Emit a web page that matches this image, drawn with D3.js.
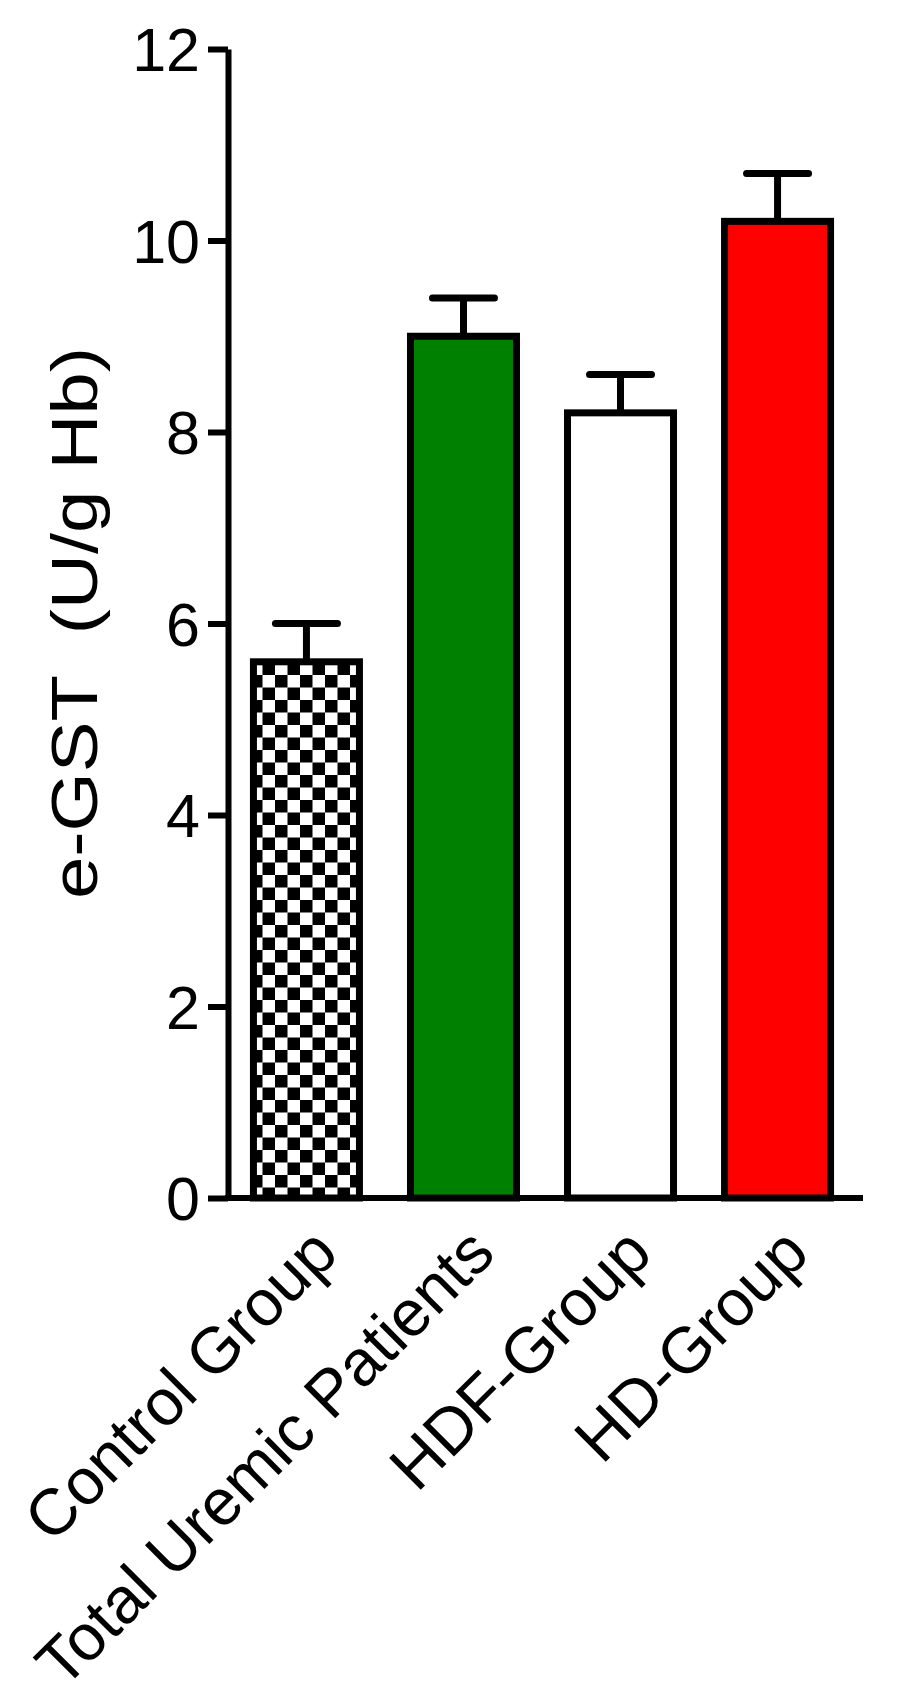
<!DOCTYPE html>
<html>
<head>
<meta charset="utf-8">
<script src="https://cdn.jsdelivr.net/npm/d3@7"></script>
<style>
  body { margin: 0; background: #fff; }
  text { font-family: "Liberation Sans", Arial, sans-serif; fill: #000; }
</style>
</head>
<body>
<div id="chart"></div>
<script>
// data
var categories = ["Control Group", "Total Uremic Patients", "HDF-Group", "HD-Group"];
var means = [5.6, 9.0, 8.2, 10.2];
var sems = [0.4, 0.4, 0.4, 0.5];
var fills = ["url(#checker)", "#008000", "#ffffff", "#ff0000"];
var yTicks = [0, 2, 4, 6, 8, 10, 12];
var yTitle = "e-GST  (U/g Hb)";

var w = 903, h = 1702;
// plot edges (window.top is reserved, so no plain "top")
var padL = 228, padT = 49, baseY = 1198, axisEnd = 863;

var svg = d3.select("#chart").append("svg")
    .attr("width", w)
    .attr("height", h);

// checker fill for the control bar
var pat = svg.append("defs").append("pattern")
    .attr("id", "checker")
    .attr("patternUnits", "userSpaceOnUse")
    .attr("width", 25)
    .attr("height", 25);
pat.append("rect").attr("width", 25).attr("height", 25).attr("fill", "#fff");
pat.append("rect").attr("width", 12.5).attr("height", 12.5).attr("fill", "#000");
pat.append("rect").attr("x", 12.5).attr("y", 12.5).attr("width", 12.5).attr("height", 12.5).attr("fill", "#000");

var x = d3.scaleBand()
    .domain(categories)
    .range([padL, 856])
    .paddingInner(0.325)
    .paddingOuter(0.162);

var y = d3.scaleLinear()
    .domain([0, 12])
    .range([baseY, padT]);

var rows = categories.map(function(c, i) {
    return {cat: c, mean: means[i], sem: sems[i], fill: fills[i]};
});

// bars
svg.selectAll("rect.bar")
    .data(rows)
    .enter().append("rect")
    .attr("class", "bar")
    .attr("x", function(d) { return x(d.cat); })
    .attr("y", function(d) { return y(d.mean); })
    .attr("width", x.bandwidth())
    .attr("height", function(d) { return y(0) - y(d.mean); })
    .attr("fill", function(d) { return d.fill; })
    .attr("stroke", "#000")
    .attr("stroke-width", 7);

// upper error bars
var capW = 62;
var err = svg.selectAll("g.err")
    .data(rows)
    .enter().append("g")
    .attr("class", "err");
err.append("line")
    .attr("x1", function(d) { return x(d.cat) + x.bandwidth() / 2; })
    .attr("x2", function(d) { return x(d.cat) + x.bandwidth() / 2; })
    .attr("y1", function(d) { return y(d.mean); })
    .attr("y2", function(d) { return y(d.mean + d.sem); })
    .attr("stroke", "#000")
    .attr("stroke-width", 7);
err.append("line")
    .attr("x1", function(d) { return x(d.cat) + x.bandwidth() / 2 - capW / 2; })
    .attr("x2", function(d) { return x(d.cat) + x.bandwidth() / 2 + capW / 2; })
    .attr("y1", function(d) { return y(d.mean + d.sem); })
    .attr("y2", function(d) { return y(d.mean + d.sem); })
    .attr("stroke", "#000")
    .attr("stroke-width", 7)
    .attr("stroke-linecap", "round");

// y axis
var yAxis = svg.append("g")
    .attr("transform", "translate(" + padL + ",0)")
    .call(d3.axisLeft(y).tickValues(yTicks).tickSize(20).tickSizeOuter(0).tickPadding(8));
yAxis.select(".domain").attr("stroke-width", 6).attr("stroke", "#000");
yAxis.selectAll(".tick line").attr("stroke-width", 6).attr("stroke", "#000");
yAxis.selectAll(".tick text")
    .attr("font-size", 61)
    .attr("dy", "0.36em")
    .style("font-family", "'Liberation Sans', Arial, sans-serif");

// x axis
svg.append("line")
    .attr("x1", padL - 3)
    .attr("x2", axisEnd)
    .attr("y1", baseY)
    .attr("y2", baseY)
    .attr("stroke", "#000")
    .attr("stroke-width", 6);

var xAxis = svg.append("g")
    .attr("transform", "translate(0," + baseY + ")")
    .call(d3.axisBottom(x).tickSize(0).tickSizeOuter(0));
xAxis.select(".domain").remove();
xAxis.selectAll(".tick text")
    .attr("x", 0)
    .attr("y", 0)
    .attr("dy", 0)
    .attr("transform", "translate(34,58) rotate(-45)")
    .attr("font-size", 65)
    .style("text-anchor", "end")
    .style("font-family", "'Liberation Sans', Arial, sans-serif");

// y title
svg.append("text")
    .attr("transform", "translate(97,623) rotate(-90)")
    .attr("text-anchor", "middle")
    .attr("font-size", 64)
    .attr("textLength", 552)
    .attr("lengthAdjust", "spacingAndGlyphs")
    .style("white-space", "pre")
    .text(yTitle);
</script>
</body>
</html>
